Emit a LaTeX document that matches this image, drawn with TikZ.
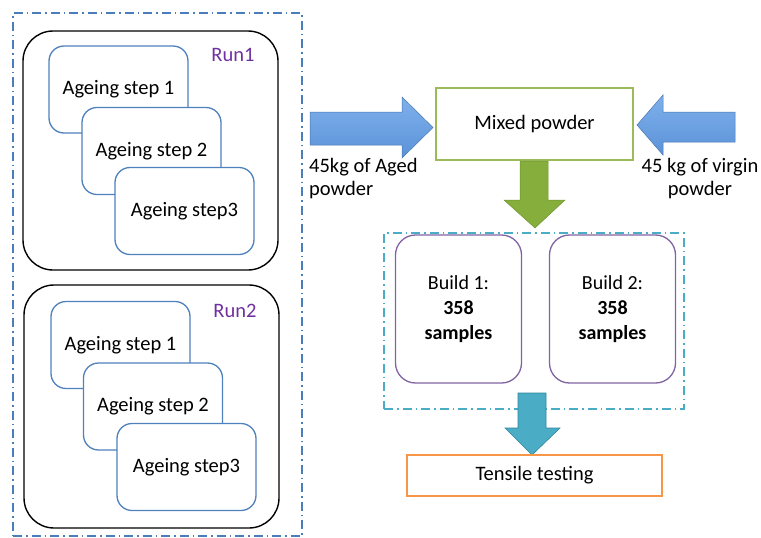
\documentclass[tikz,border=0pt]{standalone}
\usepackage{fontspec}
\setmainfont{Carlito}
\definecolor{dashblue}{HTML}{4A7EBB}
\definecolor{stepblue}{HTML}{4F81BD}
\definecolor{runpurple}{HTML}{7030A0}
\definecolor{mixgreen}{HTML}{9BBB59}
\definecolor{buildpurple}{HTML}{8064A2}
\definecolor{dashcyan}{HTML}{4BACC6}
\definecolor{tensorange}{HTML}{F79646}
\definecolor{arrowblue}{HTML}{5B93D8}
\definecolor{arrowbluelight}{HTML}{7FB0EC}
\definecolor{arrowgreen}{HTML}{86AE3C}
\definecolor{arrowteal}{HTML}{4BACC6}
\definecolor{arrowtealdark}{HTML}{31859C}
\tikzset{
  dashdot/.style={line width=1.3pt, dash pattern=on 9pt off 4pt on 1.5pt off 4pt},
  runbox/.style={draw=black, line width=1.4pt, rounded corners=30pt},
  stepbox/.style={draw=stepblue, fill=white, line width=1.3pt, rounded corners=15pt,
    minimum width=139pt, minimum height=87pt, font=\fontsize{20.5}{24}\selectfont},
  runlabel/.style={text=runpurple, font=\fontsize{20.5}{24}\selectfont},
  txt/.style={font=\fontsize{20.5}{23}\selectfont},
  buildbox/.style={draw=buildpurple, line width=1.3pt, rounded corners=20pt,
    minimum width=126pt, minimum height=148pt, align=center, font=\fontsize{20}{25}\selectfont},
  bluearrow/.style={top color=arrowbluelight, bottom color=arrowblue, draw=arrowblue!80!black, line width=0.5pt},
}
\begin{document}
\begin{tikzpicture}[x=1pt,y=-1pt]
\useasboundingbox (0,0) rectangle (761,538);
% outer dash-dot frame
\node[draw=dashblue, dashdot, minimum width=289pt, minimum height=523pt, inner sep=0pt] (outer) at (157.5,274.5) {};
% Run 1
\node[runbox, minimum width=255pt, minimum height=239pt, inner sep=0pt] (run1) at (150.5,150.5) {};
\node[runlabel] (r1lab) at (233,55) {Run1};
\node[stepbox] (s11) at (118.5,89.5) {Ageing step 1};
\node[stepbox] (s12) at (151.5,151) {Ageing step 2};
\node[stepbox] (s13) at (184.5,211) {Ageing step3};
% Run 2
\node[runbox, minimum width=255pt, minimum height=243pt, inner sep=0pt] (run2) at (151.5,406.5) {};
\node[runlabel] (r2lab) at (235,311) {Run2};
\node[stepbox] (s21) at (120.5,345) {Ageing step 1};
\node[stepbox] (s22) at (153,406.5) {Ageing step 2};
\node[stepbox] (s23) at (186.5,467) {Ageing step3};
% Mixed powder
\node[draw=mixgreen, line width=1.3pt, minimum width=197pt, minimum height=72pt, txt] (mix) at (534.5,124) {Mixed powder};
% side arrows
\path[bluearrow] (310,112) -- (402,112) -- (402,97) -- (433,127.5) -- (402,158) -- (402,145) -- (310,145) -- cycle;
\path[bluearrow] (735,112) -- (663,112) -- (663,95) -- (637,125) -- (663,155) -- (663,142) -- (735,142) -- cycle;
\node[txt, anchor=north west, align=left, inner sep=0pt] (aged) at (309,158) {45kg of Aged\\powder};
\node[txt, anchor=north, align=center, inner sep=0pt] (virgin) at (700,158) {45 kg of virgin\\powder};
% green arrow
\path[fill=arrowgreen, draw=arrowgreen!85!black, line width=0.5pt] (520,161) -- (548,161) -- (548,200) -- (565,200) -- (535,228) -- (504,200) -- (520,200) -- cycle;
% builds frame
\node[draw=dashcyan, dashdot, minimum width=300pt, minimum height=176pt, inner sep=0pt] (bframe) at (534,321) {};
\node[buildbox] (b1) at (458.5,309) {Build 1:\\\textbf{358}\\\textbf{samples}};
\node[buildbox] (b2) at (612.5,309) {Build 2:\\\textbf{358}\\\textbf{samples}};
% teal arrow
\path[fill=arrowteal, draw=arrowtealdark, line width=0.6pt] (518,393) -- (546,393) -- (546,428) -- (560,428) -- (532,455) -- (505,428) -- (518,428) -- cycle;
% Tensile testing
\node[draw=tensorange, line width=1.3pt, minimum width=255pt, minimum height=41pt, txt] (tens) at (534.5,475.5) {Tensile testing};
\end{tikzpicture}
\end{document}
